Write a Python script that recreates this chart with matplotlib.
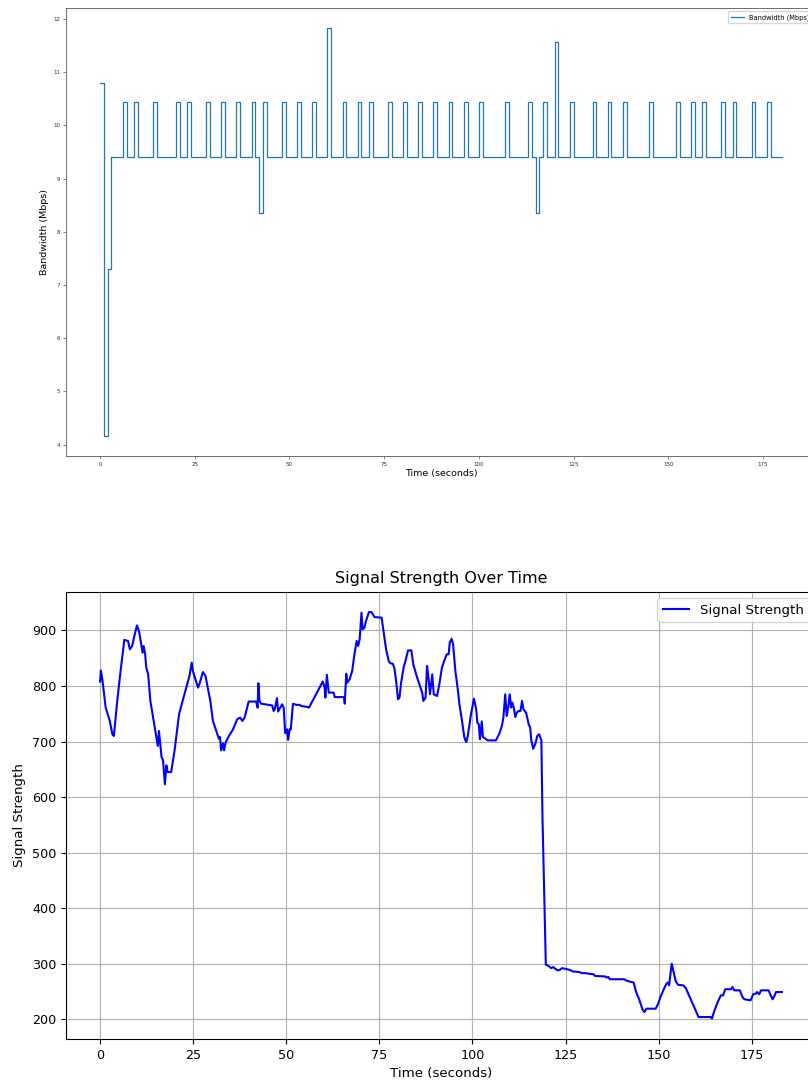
import matplotlib.pyplot as plt

# Bandwidth samples, one per second (Mbps)
bw_time = list(range(181))
bw_mbps = [
    10.79, 4.17, 7.30, 9.40, 9.40, 9.40, 10.44, 9.40, 9.40, 10.44,
    9.40, 9.40, 9.40, 9.40, 10.44, 9.40, 9.40, 9.40, 9.40, 9.40,
    10.44, 9.40, 9.40, 10.44, 9.40, 9.40, 9.40, 9.40, 10.44, 9.40,
    9.40, 9.40, 10.44, 9.40, 9.40, 9.40, 10.44, 9.40, 9.40, 9.40,
    10.44, 9.40, 8.35, 10.44, 9.40, 9.40, 9.40, 9.40, 10.44, 9.40,
    9.40, 9.40, 10.44, 9.40, 9.40, 9.40, 10.44, 9.40, 9.40, 9.40,
    11.82, 9.40, 9.40, 9.40, 10.44, 9.40, 9.40, 9.40, 10.44, 9.40,
    9.40, 10.44, 9.40, 9.40, 9.40, 9.40, 10.44, 9.40, 9.40, 9.40,
    10.44, 9.40, 9.40, 9.40, 10.44, 9.40, 9.40, 9.40, 10.44, 9.40,
    9.40, 9.40, 10.44, 9.40, 9.40, 9.40, 10.44, 9.40, 9.40, 9.40,
    10.44, 9.40, 9.40, 9.40, 9.40, 9.40, 9.40, 10.44, 9.40, 9.40,
    9.40, 9.40, 9.40, 10.44, 9.40, 8.35, 9.40, 10.44, 9.40, 9.40,
    11.57, 9.40, 9.40, 9.40, 10.44, 9.40, 9.40, 9.40, 9.40, 9.40,
    10.44, 9.40, 9.40, 9.40, 10.44, 9.40, 9.40, 9.40, 10.44, 9.40,
    9.40, 9.40, 9.40, 9.40, 9.40, 10.44, 9.40, 9.40, 9.40, 9.40,
    9.40, 9.40, 10.44, 9.40, 9.40, 9.40, 10.44, 9.40, 9.40, 10.44,
    9.40, 9.40, 9.40, 9.40, 10.44, 9.40, 9.40, 10.44, 9.40, 9.40,
    9.40, 9.40, 10.44, 9.40, 9.40, 9.40, 10.44, 9.40, 9.40, 9.40,
    9.40,
]

# Signal strength trace
sig_time = [
    0.0, 0.2, 0.6, 1.5, 2.6, 3.3, 3.7, 4.6, 5.5, 6.5,
    7.5, 8.0, 8.6, 9.3, 9.9, 10.5, 11.4, 11.7, 12.1, 12.4,
    12.9, 13.5, 14.4, 15.1, 15.5, 15.8, 16.2, 16.5, 16.9, 17.4,
    17.8, 18.1, 19.1, 20.0, 21.2, 22.4, 24.0, 24.6, 24.9, 26.3,
    26.7, 27.6, 28.3, 28.9, 29.6, 30.3, 31.2, 31.9, 32.2, 32.5,
    33.0, 33.3, 33.7, 34.6, 35.7, 36.8, 37.6, 38.2, 38.8, 39.9,
    41.9, 42.3, 42.5, 42.8, 43.3, 46.2, 46.6, 46.9, 47.5, 47.8,
    48.4, 48.9, 49.3, 49.7, 50.2, 50.5, 50.9, 51.2, 51.8, 52.7,
    53.6, 54.0, 55.8, 56.1, 59.8, 60.3, 60.5, 60.9, 61.4, 62.7,
    63.0, 65.5, 65.7, 66.1, 66.4, 67.0, 67.7, 68.3, 68.9, 69.3,
    69.7, 70.2, 70.5, 71.0, 71.4, 72.2, 72.9, 73.7, 75.6, 76.1,
    76.8, 77.5, 77.9, 78.6, 79.0, 79.5, 80.0, 80.4, 80.8, 81.5,
    82.0, 82.7, 83.6, 84.1, 85.0, 85.4, 85.9, 86.5, 86.8, 87.4,
    87.8, 88.2, 88.6, 89.2, 89.6, 90.5, 91.1, 91.8, 92.4, 93.1,
    93.6, 93.9, 94.4, 94.8, 95.4, 96.0, 96.5, 97.2, 97.8, 98.3,
    98.7, 99.6, 100.4, 101.0, 101.3, 101.7, 102.0, 102.5, 102.8, 103.5,
    104.1, 106.3, 107.2, 107.9, 108.3, 108.8, 109.2, 109.6, 110.0, 110.4,
    110.7, 111.1, 111.5, 111.9, 112.4, 112.9, 113.3, 113.7, 114.4, 115.1,
    115.5, 115.8, 116.3, 116.9, 117.4, 117.9, 118.5, 118.8, 119.0, 119.4,
    119.7, 120.2, 120.6, 121.1, 121.7, 122.2, 122.9, 123.5, 124.0, 125.5,
    126.4, 126.9, 128.7, 129.4, 130.5, 131.0, 132.5, 132.9, 135.7, 136.0,
    136.5, 136.9, 140.8, 141.2, 142.1, 143.3, 143.9, 144.8, 145.7, 146.2,
    146.7, 149.2, 149.8, 150.6, 151.5, 152.1, 152.5, 152.8, 153.5, 154.1,
    154.6, 155.2, 156.6, 157.3, 158.2, 159.6, 160.7, 164.0, 164.3, 164.9,
    165.8, 166.7, 167.3, 167.9, 169.4, 169.8, 170.3, 171.8, 172.5, 173.0,
    174.7, 175.4, 176.1, 176.4, 177.0, 177.5, 179.5, 180.1, 180.6, 181.1,
    181.5, 183.1,
]
sig_value = [
    808, 828, 812, 761, 737, 713, 710, 773, 827, 883,
    881, 866, 872, 893, 909, 897, 860, 872, 857, 833,
    821, 773, 737, 710, 692, 719, 692, 672, 666, 623,
    657, 645, 645, 684, 749, 779, 818, 842, 827, 797,
    804, 825, 818, 797, 773, 737, 719, 705, 708, 684,
    697, 684, 698, 710, 722, 740, 743, 737, 743, 772,
    772, 761, 805, 773, 768, 765, 755, 758, 778, 754,
    761, 767, 761, 715, 722, 703, 722, 722, 768, 766,
    766, 764, 762, 761, 808, 797, 779, 820, 788, 788,
    780, 780, 768, 822, 806, 812, 827, 857, 881, 872,
    884, 932, 902, 905, 917, 933, 933, 924, 923, 899,
    866, 845, 841, 840, 833, 809, 776, 779, 804, 833,
    845, 864, 864, 839, 818, 810, 800, 788, 773, 779,
    836, 814, 785, 821, 785, 782, 803, 833, 845, 857,
    857, 878, 885, 875, 827, 797, 767, 737, 708, 699,
    708, 749, 777, 758, 734, 731, 704, 736, 708, 705,
    702, 702, 714, 728, 743, 785, 746, 761, 785, 761,
    770, 761, 744, 752, 755, 755, 773, 758, 752, 731,
    725, 702, 687, 696, 710, 713, 702, 564, 504, 385,
    298, 297, 295, 292, 294, 291, 288, 289, 292, 290,
    288, 286, 285, 283, 283, 282, 281, 278, 277, 275,
    276, 272, 272, 270, 268, 266, 250, 235, 217, 213,
    219, 219, 227, 242, 256, 264, 266, 261, 300, 283,
    268, 262, 261, 256, 242, 221, 204, 204, 201, 214,
    230, 243, 243, 254, 254, 258, 252, 252, 240, 236,
    234, 245, 246, 249, 245, 252, 252, 243, 236, 242,
    249, 249,
]

fig = plt.figure(figsize=(8.08, 10.84), dpi=100)

###############################################################################
# Bandwidth (top)
###############################################################################
ax1 = fig.add_axes([0.0817, 0.5793, 0.9282, 0.4133])
ax1.step(bw_time, bw_mbps, where='post', color='#1f77b4', lw=0.9,
         label='Bandwidth (Mbps)')
ax1.set_xlabel('Time (seconds)', fontsize=6.8, labelpad=2)
ax1.set_ylabel('Bandwidth (Mbps)', fontsize=6.8, labelpad=3)
ax1.tick_params(labelsize=4.0, length=2, width=0.5, pad=2,
                color='#555555', labelcolor='#333333')
for sp in ax1.spines.values():
    sp.set_color('#555555')
    sp.set_linewidth(0.6)
ax1.legend(loc='upper right', fontsize=4.8)

###############################################################################
# Signal strength (bottom)
###############################################################################
ax2 = fig.add_axes([0.0817, 0.0415, 0.9282, 0.4126])
ax2.plot(sig_time, sig_value, color='blue', lw=1.5, label='Signal Strength')
ax2.set_title('Signal Strength Over Time', fontsize=11.5)
ax2.set_xlabel('Time (seconds)', fontsize=9.6)
ax2.set_ylabel('Signal Strength', fontsize=9.6)
ax2.tick_params(labelsize=9.2)
ax2.grid(True)
ax2.legend(loc='upper right', fontsize=9.6)

fig.savefig('out.png', dpi=100)
plt.close('all')
